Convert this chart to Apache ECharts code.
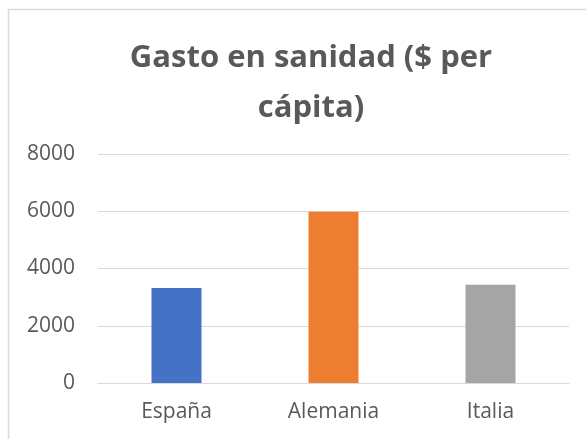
<!DOCTYPE html>
<html>
<head>
<meta charset="utf-8">
<script src="https://cdn.jsdelivr.net/npm/echarts@6/dist/echarts.min.js"></script>
<style>
  html, body { margin: 0; padding: 0; background: #fff; }
  #chart { width: 586px; height: 439px; }
</style>
</head>
<body>
<div id="chart"></div>
<script>
// datos
var paises = ['España', 'Alemania', 'Italia'];
var gasto = [3323, 5985, 3430];
var colores = ['#4472C4', '#ED7D31', '#A5A5A5'];
var ejeY = { min: 0, max: 8000, interval: 2000 };

var myChart = echarts.init(document.getElementById('chart'));

var barras = [];
for (var i = 0; i < gasto.length; i++) {
  barras.push({ value: gasto[i], itemStyle: { color: colores[i] } });
}

var option = {
  backgroundColor: '#fff',
  animation: false,
  title: {
    text: 'Gasto en sanidad ($ per\ncápita)',
    left: 306,
    top: 28,
    textAlign: 'center',
    textStyle: {
      color: '#595959',
      fontFamily: 'Open Sans',
      fontWeight: 'bold',
      fontSize: 31,
      lineHeight: 50
    }
  },
  // marco del gráfico
  graphic: [{
    type: 'rect',
    shape: { x: 8.5, y: 9.5, width: 600, height: 460 },
    style: { fill: 'none', stroke: '#d9d9d9', lineWidth: 1.5 },
    silent: true
  }],
  grid: { left: 98, right: 17, top: 154, bottom: 56 },
  xAxis: {
    type: 'category',
    data: paises,
    axisTick: { show: false },
    axisLine: { lineStyle: { color: '#d9d9d9', width: 1 } },
    axisLabel: {
      color: '#595959',
      fontFamily: 'Open Sans',
      fontSize: 21,
      margin: 19
    }
  },
  yAxis: {
    type: 'value',
    min: ejeY.min,
    max: ejeY.max,
    interval: ejeY.interval,
    axisLine: { show: false },
    axisTick: { show: false },
    splitLine: { lineStyle: { color: '#d9d9d9', width: 1 } },
    axisLabel: {
      color: '#595959',
      fontFamily: 'Open Sans',
      fontSize: 21,
      margin: 23,
      formatter: function (v) { return String(v); }
    }
  },
  series: [{
    name: 'Gasto',
    type: 'bar',
    data: barras,
    barWidth: 50
  }]
};

myChart.setOption(option);
</script>
</body>
</html>
